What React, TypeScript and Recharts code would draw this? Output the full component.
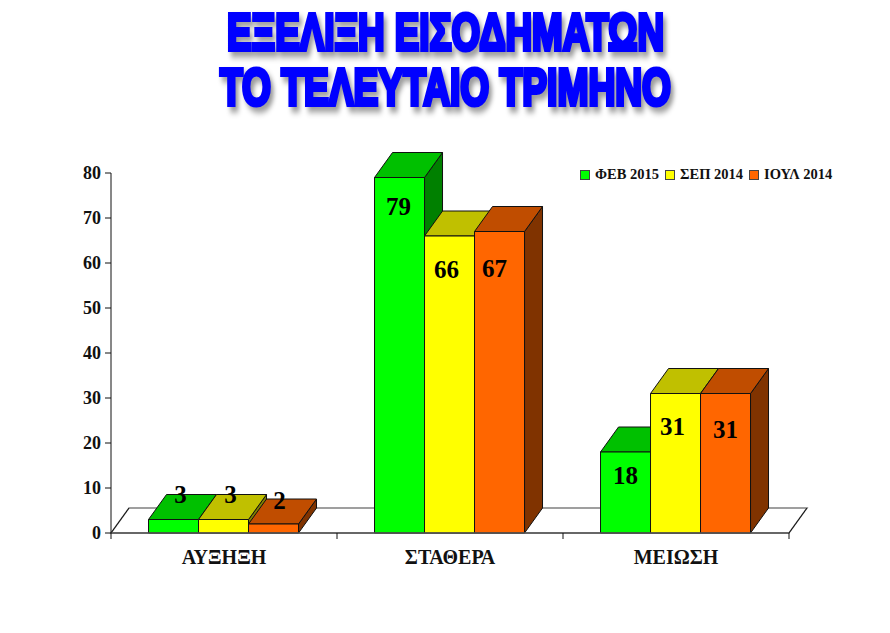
import { BarChart, Bar, XAxis, YAxis, Legend, LabelList, ReferenceLine } from 'recharts';

const CATEGORIES = ['ΑΥΞΗΞΗ', 'ΣΤΑΘΕΡΑ', 'ΜΕΙΩΣΗ'];
const FEB_2015 = [3, 79, 18];
const SEP_2014 = [3, 66, 31];
const JUL_2014 = [2, 67, 31];
const Y_TICKS = [0, 10, 20, 30, 40, 50, 60, 70, 80];

const chartData = CATEGORIES.map((name, i) => ({
  name,
  feb: FEB_2015[i],
  sep: SEP_2014[i],
  jul: JUL_2014[i],
}));

const FONT = '"Liberation Serif", serif';
const INK = '#111';
const DEPTH_X = 18;
const DEPTH_Y = 25;
const BAND = 226;

// front, top, side
const GREEN = ['#00ff00', '#00c000', '#008000'];
const YELLOW = ['#ffff00', '#c0c000', '#808000'];
const ORANGE = ['#ff6600', '#c04d00', '#803300'];

// hand-placed labels in the original: offset of the text centre from the top middle of each bar
const NUDGE_FEB = [[7, -25], [-1, 29], [0, 23]];
const NUDGE_SEP = [[7, -25], [-3, 33], [-3, 33]];
const NUDGE_JUL = [[6, -24], [-5, 37], [0, 36]];

function bar3d(colors: string[]) {
  return (props: any) => {
    const { x, y, width, height } = props;
    const r = x + width;
    const b = y + height;
    const common = { stroke: INK, strokeWidth: 1, strokeLinejoin: 'round' as const };
    return (
      <g>
        <polygon
          points={`${r},${y} ${r + DEPTH_X},${y - DEPTH_Y} ${r + DEPTH_X},${b - DEPTH_Y} ${r},${b}`}
          fill={colors[2]}
          {...common}
        />
        <polygon
          points={`${x},${y} ${x + DEPTH_X},${y - DEPTH_Y} ${r + DEPTH_X},${y - DEPTH_Y} ${r},${y}`}
          fill={colors[1]}
          {...common}
        />
        <rect x={x} y={y} width={width} height={height} fill={colors[0]} {...common} />
      </g>
    );
  };
}

function valueLabel(nudge: number[][]) {
  return (props: any) => {
    const { x, y, width, value, index } = props;
    const [dx, dy] = nudge[index];
    return (
      <text
        x={x + width / 2 + dx}
        y={y + dy}
        textAnchor="middle"
        dominantBaseline="central"
        fontFamily={FONT}
        fontWeight="bold"
        fontSize={25}
        fill="#000"
      >
        {value}
      </text>
    );
  };
}

function Floor(props: any) {
  const { x1, y1, x2, y2 } = props;
  return (
    <g fill="none">
      <polygon
        points={`${x1},${y1} ${x1 + DEPTH_X},${y1 - DEPTH_Y} ${x2 + DEPTH_X},${y2 - DEPTH_Y} ${x2},${y2}`}
        fill="#fff"
        stroke="#808080"
        strokeWidth={1.5}
      />
      <line x1={x1} y1={y1} x2={x1 + DEPTH_X} y2={y1 - DEPTH_Y} stroke={INK} />
      <line x1={x2} y1={y2} x2={x2 + DEPTH_X} y2={y2 - DEPTH_Y} stroke={INK} />
    </g>
  );
}

function CategoryTick(props: any) {
  const { x, y, payload, index } = props;
  return (
    <g>
      <line x1={x - BAND / 2} y1={y - 8} x2={x - BAND / 2} y2={y - 2} stroke={INK} />
      {index === CATEGORIES.length - 1 && (
        <line x1={x + BAND / 2} y1={y - 8} x2={x + BAND / 2} y2={y - 2} stroke={INK} />
      )}
      <text x={x} y={y + 23} textAnchor="middle" fontFamily={FONT} fontWeight="bold" fontSize={20} fill={INK}>
        {payload.value}
      </text>
    </g>
  );
}

function LegendRow(props: any) {
  return (
    <div style={{ display: 'flex', fontFamily: FONT, fontWeight: 'bold', fontSize: 14.5, color: INK }}>
      {props.payload.map((item: any) => (
        <div key={item.value} style={{ display: 'flex', alignItems: 'center', marginRight: 6 }}>
          <span
            style={{
              width: 8,
              height: 8,
              marginRight: 5,
              background: item.color,
              border: '1px solid #444',
            }}
          />
          {item.value}
        </div>
      ))}
    </div>
  );
}

function TitleLine({ x, y, w, children }: any) {
  return (
    <text
      transform={`translate(${x},${y}) scale(1,1.7)`}
      textLength={w}
      lengthAdjust="spacingAndGlyphs"
      fontFamily='"Liberation Sans", sans-serif'
      fontWeight="bold"
      fontSize={31}
      fill="#0000ff"
      stroke="#0000ff"
      strokeWidth={2.5}
      style={{ filter: 'drop-shadow(3px 3px 2px #999)' }}
    >
      {children}
    </text>
  );
}

export default function App() {
  return (
    <div style={{ position: 'absolute', left: 0, top: 0, width: 890, height: 633, background: '#fff' }}>
      <svg width={890} height={120} style={{ position: 'absolute', left: 0, top: 0 }}>
        <TitleLine x={227} y={50} w={437}>ΕΞΕΛΙΞΗ ΕΙΣΟΔΗΜΑΤΩΝ</TitleLine>
        <TitleLine x={220} y={105} w={451}>ΤΟ ΤΕΛΕΥΤΑΙΟ ΤΡΙΜΗΝΟ</TitleLine>
      </svg>
      <BarChart
        width={890}
        height={633}
        data={chartData}
        margin={{ top: 173, right: 101, left: 0, bottom: 0 }}
        barGap={0}
        barCategoryGap="16.6%"
        style={{ position: 'absolute', left: 0, top: 0 }}
      >
        <ReferenceLine y={0} shape={Floor} zIndex={100} />
        <XAxis
          dataKey="name"
          height={100}
          interval={0}
          axisLine={{ stroke: '#555', strokeWidth: 1.5 }}
          tickLine={false}
          tick={CategoryTick}
        />
        <YAxis
          width={111}
          domain={[0, 80]}
          ticks={Y_TICKS}
          interval={0}
          axisLine={{ stroke: INK }}
          tickLine={{ stroke: INK }}
          tickSize={6}
          tickMargin={4}
          tick={{ fontFamily: FONT, fontWeight: 'bold', fontSize: 18, fill: INK }}
        />
        <Legend
          content={LegendRow}
          layout="horizontal"
          align="center"
          verticalAlign="middle"
          itemSorter={null}
          wrapperStyle={{ position: 'absolute', left: 580, top: 166, width: 280 }}
        />
        <Bar dataKey="feb" name="ΦΕΒ 2015" fill={GREEN[0]} shape={bar3d(GREEN)} isAnimationActive={false}>
          <LabelList dataKey="feb" content={valueLabel(NUDGE_FEB)} />
        </Bar>
        <Bar dataKey="sep" name="ΣΕΠ 2014" fill={YELLOW[0]} shape={bar3d(YELLOW)} isAnimationActive={false}>
          <LabelList dataKey="sep" content={valueLabel(NUDGE_SEP)} />
        </Bar>
        <Bar dataKey="jul" name="ΙΟΥΛ 2014" fill={ORANGE[0]} shape={bar3d(ORANGE)} isAnimationActive={false}>
          <LabelList dataKey="jul" content={valueLabel(NUDGE_JUL)} />
        </Bar>
      </BarChart>
    </div>
  );
}
